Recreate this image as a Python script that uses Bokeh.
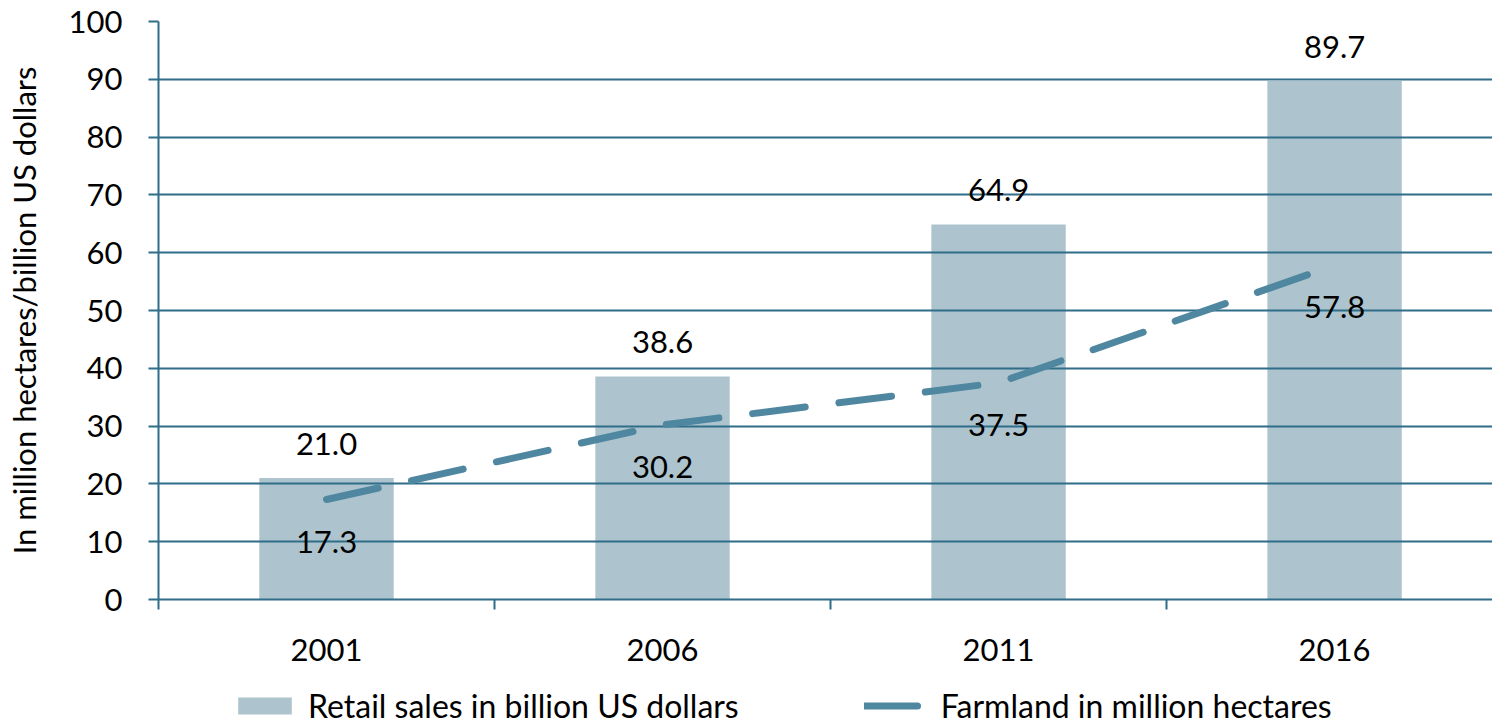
from bokeh.plotting import figure
from bokeh.layouts import column
from bokeh.models import ColumnDataSource, Range1d, FixedTicker, Legend, LegendItem
from bokeh.core.properties import value
from bokeh.embed import file_html
from bokeh.resources import INLINE

years = ["2001", "2006", "2011", "2016"]
retail_sales = [21.0, 38.6, 64.9, 89.7]
farmland = [17.3, 30.2, 37.5, 57.8]
y_ticks = [0, 10, 20, 30, 40, 50, 60, 70, 80, 90, 100]
series_names = ["Retail sales in billion US dollars", "Farmland in million hectares"]

FONT = "Lato"
FS = "31px"
BAR_COLOR = "#ADC4CE"
LINE_COLOR = "#4F87A0"
AXIS_COLOR = "#2F6D89"

xpos = [i + 0.5 for i in range(len(years))]
src = ColumnDataSource(dict(
    x=xpos,
    sales=retail_sales,
    farm=farmland,
    sales_lbl=[f"{v:.1f}" for v in retail_sales],
    farm_lbl=[f"{v:.1f}" for v in farmland],
))

p = figure(width=1492, height=680, output_backend="svg", toolbar_location=None,
           x_range=Range1d(0, 3.970), y_range=Range1d(0, 100),
           min_border_left=158, min_border_right=0, min_border_top=21,
           min_border_bottom=81)
p.outline_line_color = None
p.background_fill_color = "white"

bars = p.vbar(x="x", top="sales", width=0.4, source=src, fill_color=BAR_COLOR,
              line_color=None, level="image")
line = p.line(x="x", y="farm", source=src, line_color=LINE_COLOR, line_width=7,
              line_dash="53 34", line_cap="round")

p.text(x="x", y="sales", text="sales_lbl", source=src, y_offset=-34,
       text_align="center", text_baseline="middle", text_font=value(FONT),
       text_font_size=FS, text_color="black")
p.text(x="x", y="farm", text="farm_lbl", source=src, y_offset=42,
       text_align="center", text_baseline="middle", text_font=value(FONT),
       text_font_size=FS, text_color="black")

# grid
p.xgrid.visible = False
p.ygrid.ticker = FixedTicker(ticks=y_ticks)
p.ygrid.grid_line_color = AXIS_COLOR
p.ygrid.grid_line_width = 2
p.ygrid.level = "underlay"

# y axis
p.yaxis.ticker = FixedTicker(ticks=y_ticks)
p.yaxis.axis_line_color = AXIS_COLOR
p.yaxis.axis_line_width = 2
p.yaxis.major_tick_line_color = AXIS_COLOR
p.yaxis.major_tick_line_width = 2
p.yaxis.major_tick_out = 10
p.yaxis.major_tick_in = 0
p.yaxis.minor_tick_line_color = None
p.yaxis.major_label_standoff = 26
p.yaxis.major_label_text_font = FONT
p.yaxis.major_label_text_font_size = FS
p.yaxis.major_label_text_color = "black"
p.yaxis.axis_label = "In million hectares/billion US dollars"
p.yaxis.axis_label_text_font = FONT
p.yaxis.axis_label_text_font_size = FS
p.yaxis.axis_label_text_font_style = "normal"
p.yaxis.axis_label_text_color = "black"
p.yaxis.axis_label_standoff = 23

# x axis
p.xaxis.ticker = FixedTicker(ticks=xpos, minor_ticks=[0, 1, 2, 3])
p.xaxis.major_label_overrides = {x: y for x, y in zip(xpos, years)}
p.xaxis.axis_line_color = AXIS_COLOR
p.xaxis.axis_line_width = 2
p.xaxis.major_tick_line_color = None
p.xaxis.major_tick_out = 0
p.xaxis.major_tick_in = 0
p.xaxis.minor_tick_line_color = AXIS_COLOR
p.xaxis.minor_tick_line_width = 2
p.xaxis.minor_tick_out = 10
p.xaxis.minor_tick_in = 0
p.xaxis.major_label_standoff = 29
p.xaxis.major_label_text_font = FONT
p.xaxis.major_label_text_font_size = FS
p.xaxis.major_label_text_color = "black"
p.xaxis.axis_label_standoff = 0

# legend strip (separate figure so the legend is not clipped by the plot frame);
# its proxy glyphs use the same data but lie outside this strip's visible range
lf = figure(width=1492, height=46, output_backend="svg", toolbar_location=None,
            x_range=Range1d(1000, 1001), y_range=Range1d(1000, 1001),
            min_border=0, outline_line_color=None)
lf.axis.visible = False
lf.grid.visible = False
lbar = lf.vbar(x="x", top="sales", width=0.4, source=src, fill_color=BAR_COLOR,
               line_color=None)
lline = lf.line(x="x", y="farm", source=src, line_color=LINE_COLOR, line_width=7,
                line_dash="53 34", line_cap="round")
legend = Legend(items=[
    LegendItem(label=series_names[0], renderers=[lbar]),
    LegendItem(label=series_names[1], renderers=[lline]),
], orientation="horizontal", location=(73, 1), border_line_color=None,
    background_fill_alpha=0, padding=0, spacing=125, label_standoff=10,
    glyph_width=67, glyph_height=21, label_text_font=FONT,
    label_text_font_size="32px", label_text_color="black", margin=0,
    label_height=30)
lf.add_layout(legend, "center")

layout = column(p, lf, spacing=0)
open("out.html", "w").write(file_html(layout, INLINE))
